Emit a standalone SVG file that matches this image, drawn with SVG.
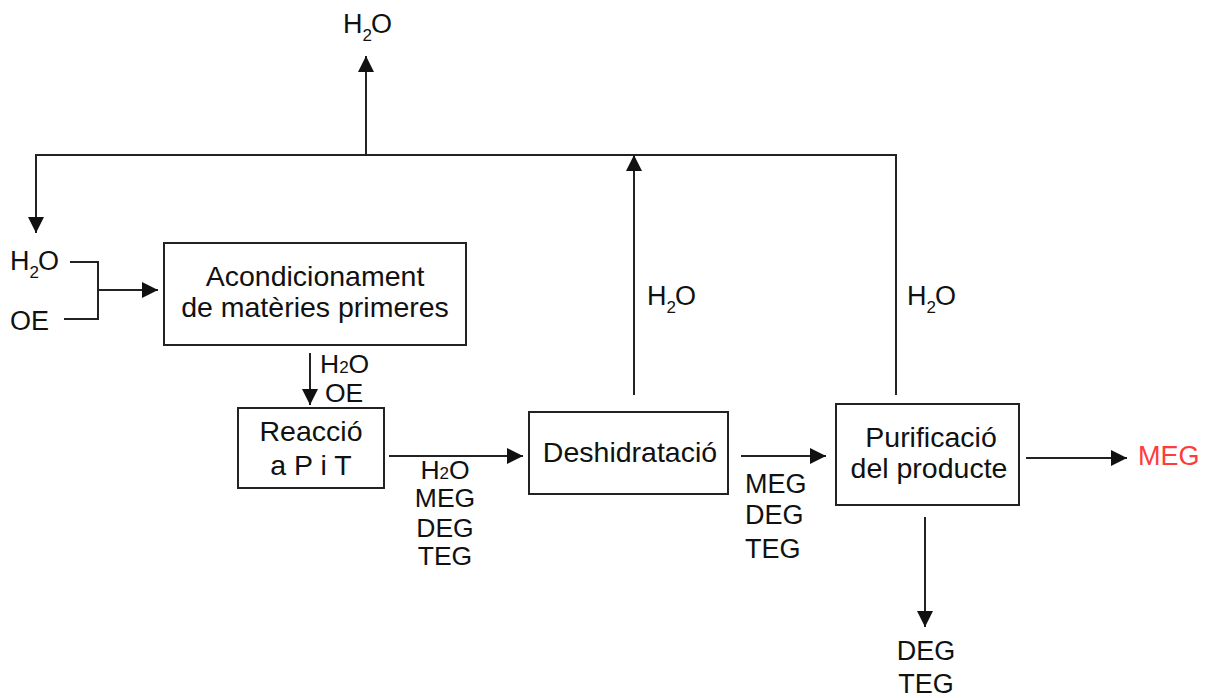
<svg xmlns="http://www.w3.org/2000/svg" width="1211" height="698" viewBox="0 0 1211 698">
  <style>
    .box { fill: #ffffff; stroke: #222222; stroke-width: 2; }
    .line { fill: none; stroke: #222222; stroke-width: 2; }
    text { font-family: "Liberation Sans", Arial, sans-serif; font-size: 27px; fill: #111111; }
    .unit { font-size: 28.5px; }
    .stream { font-size: 26.5px; }
    .mid { text-anchor: middle; }
    .sub { font-size: 17px; }
    .product { fill: #ff3b3b; }
  </style>
  <defs>
    <marker id="arrow" viewBox="0 0 16 16" refX="16" refY="8" markerWidth="16" markerHeight="16" orient="auto" markerUnits="userSpaceOnUse">
      <path d="M0,0 L16,8 L0,16 z" fill="#111111"/>
    </marker>
  </defs>

  <!-- connectors -->
  <g id="connectors">
    <!-- water recycle loop -->
    <path class="line" d="M896,395 V155 H36 V233" marker-end="url(#arrow)"/>
    <path class="line" d="M366,155 V56" marker-end="url(#arrow)"/>
    <path class="line" d="M634,395 V155" marker-end="url(#arrow)"/>
    <!-- raw material feed -->
    <path class="line" d="M70,262 H98 V319 H64"/>
    <path class="line" d="M98,290 H158" marker-end="url(#arrow)"/>
    <!-- main process line -->
    <path class="line" d="M310,353 V405" marker-end="url(#arrow)"/>
    <path class="line" d="M389,456 H523" marker-end="url(#arrow)"/>
    <path class="line" d="M741,456 H826" marker-end="url(#arrow)"/>
    <path class="line" d="M1026,458 H1127" marker-end="url(#arrow)"/>
    <path class="line" d="M925,517 V627" marker-end="url(#arrow)"/>
  </g>

  <!-- stream labels -->
  <g id="labels">
    <text x="343" y="33">H<tspan class="sub" dy="8">2</tspan><tspan dy="-8" dx="-1">O</tspan></text>
    <text x="10" y="270">H<tspan class="sub" dy="8">2</tspan><tspan dy="-8" dx="-1">O</tspan></text>
    <text x="10" y="330">OE</text>
    <text x="647" y="305">H<tspan class="sub" dy="8">2</tspan><tspan dy="-8" dx="-1">O</tspan></text>
    <text x="907" y="305">H<tspan class="sub" dy="8">2</tspan><tspan dy="-8" dx="-1">O</tspan></text>

    <text class="stream" x="320" y="373">H<tspan class="sub">2</tspan>O</text>
    <text class="stream" x="325" y="402">OE</text>

    <text class="stream mid" x="445" y="479">H<tspan class="sub">2</tspan>O</text>
    <text class="stream mid" x="445" y="507">MEG</text>
    <text class="stream mid" x="445" y="537">DEG</text>
    <text class="stream mid" x="445" y="565">TEG</text>

    <text x="745" y="493">MEG</text>
    <text x="745" y="524">DEG</text>
    <text x="745" y="558">TEG</text>

    <text class="product" x="1138" y="465">MEG</text>

    <text class="mid" x="926" y="660">DEG</text>
    <text class="mid" x="926" y="693">TEG</text>
  </g>

  <!-- process units -->
  <g id="acondicionament">
    <rect class="box" x="164" y="243" width="302" height="102"/>
    <text class="unit mid" x="315" y="286">Acondicionament</text>
    <text class="unit mid" x="315" y="317">de matèries primeres</text>
  </g>
  <g id="reaccio">
    <rect class="box" x="238" y="408" width="146" height="80"/>
    <text class="unit mid" x="311" y="441">Reacció</text>
    <text class="unit mid" x="311" y="475">a P i T</text>
  </g>
  <g id="deshidratacio">
    <rect class="box" x="529" y="412" width="199" height="82"/>
    <text class="unit mid" x="630" y="462">Deshidratació</text>
  </g>
  <g id="purificacio">
    <rect class="box" x="836" y="404" width="183" height="101"/>
    <text class="unit mid" x="931" y="447">Purificació</text>
    <text class="unit mid" x="929" y="478">del producte</text>
  </g>
</svg>
